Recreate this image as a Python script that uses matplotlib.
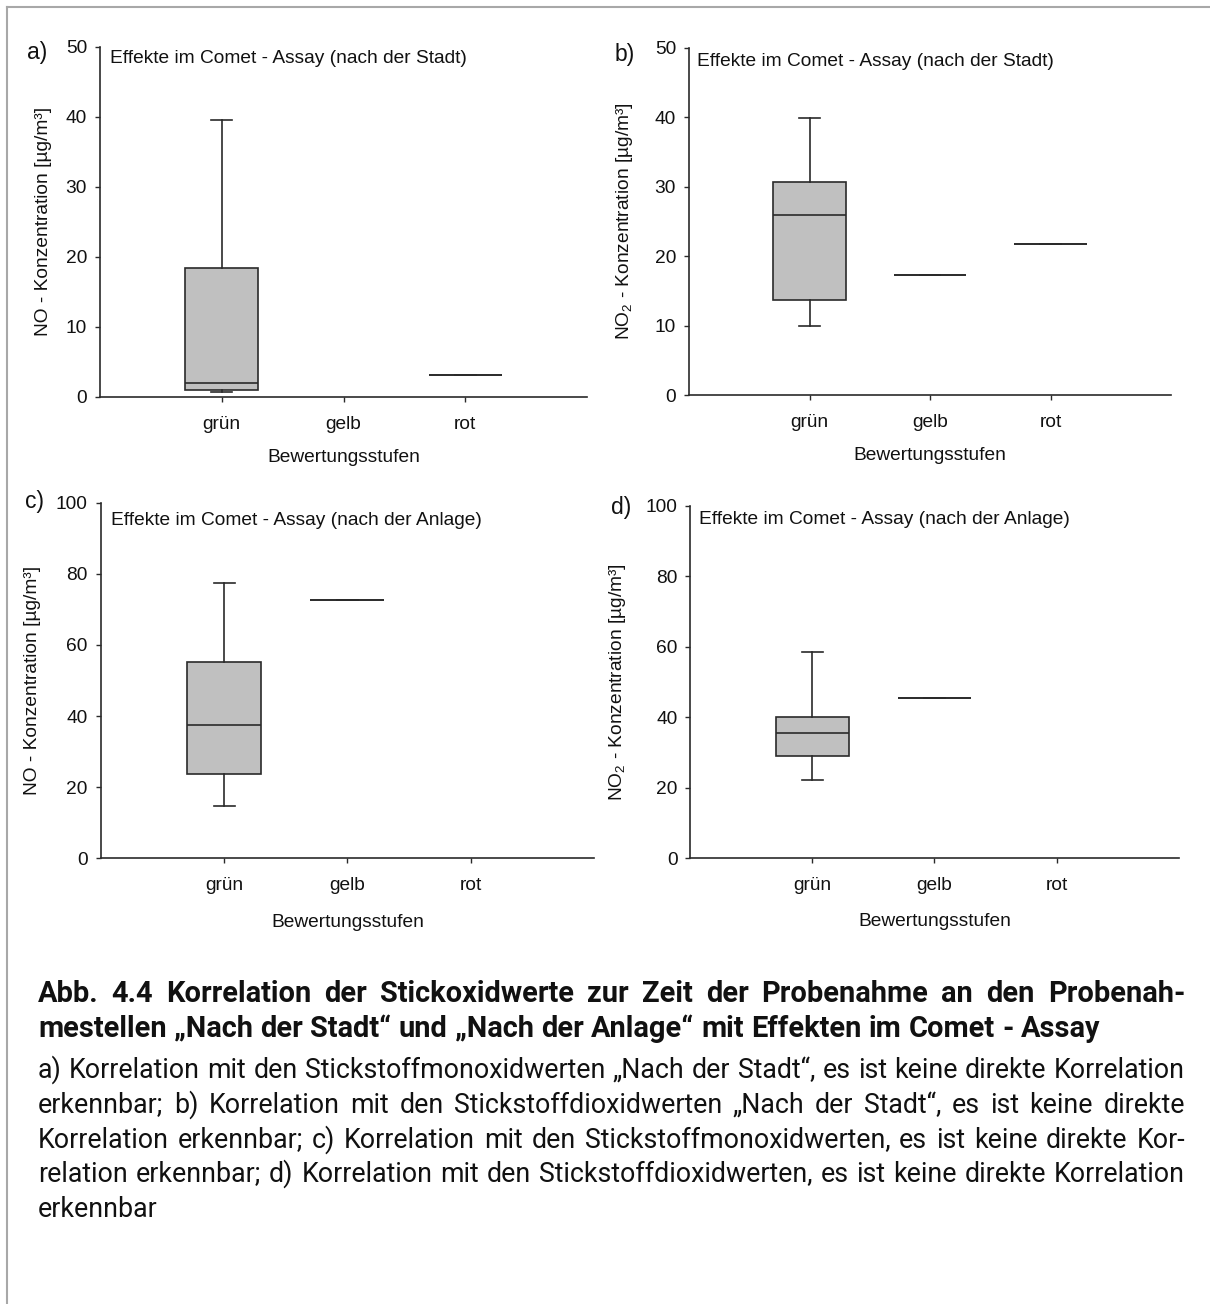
import numpy as np
import matplotlib
matplotlib.use("Agg")
import matplotlib.pyplot as plt
from matplotlib.figure import Figure
from matplotlib.backends.backend_agg import FigureCanvasAgg
from matplotlib.lines import Line2D
from matplotlib.font_manager import FontProperties

W, H, DPI = 1210, 1304, 100

plt.rcParams["font.family"] = ["Liberation Sans", "DejaVu Sans"]
plt.rcParams["mathtext.fontset"] = "custom"
plt.rcParams["mathtext.rm"] = "Liberation Sans"
plt.rcParams["mathtext.it"] = "Liberation Sans:italic"
plt.rcParams["mathtext.bf"] = "Liberation Sans:bold"

# ---- data -------------------------------------------------------------
categories = ["grün", "gelb", "rot"]

# five-number summaries per category:
# (lower whisker, Q1, median, Q3, upper whisker); None = no samples
no_stadt = [(0.7, 0.95, 1.9, 18.4, 39.5), None, (3.1, 3.1, 3.1, 3.1, 3.1)]
no2_stadt = [(10.0, 13.7, 25.9, 30.6, 39.9), (17.3, 17.3, 17.3, 17.3, 17.3),
             (21.8, 21.8, 21.8, 21.8, 21.8)]
no_anlage = [(14.6, 23.8, 37.6, 55.1, 77.5), (72.6, 72.6, 72.6, 72.6, 72.6), None]
no2_anlage = [(22.1, 29.0, 35.6, 40.1, 58.4), (45.4, 45.4, 45.4, 45.4, 45.4), None]

y_ticks_stadt = [0, 10, 20, 30, 40, 50]
y_ticks_anlage = [0, 20, 40, 60, 80, 100]

panel_letters = ["a)", "b)", "c)", "d)"]
note_stadt = "Effekte im Comet - Assay (nach der Stadt)"
note_anlage = "Effekte im Comet - Assay (nach der Anlage)"
ylabel_no = "NO - Konzentration [µg/m³]"
ylabel_no2 = r"NO$_{2}$ - Konzentration [µg/m³]"
xlabel = "Bewertungsstufen"

caption_head = [
    "Abb. 4.4 Korrelation der Stickoxidwerte zur Zeit der Probenahme an den Probenah-",
    "mestellen „Nach der Stadt“ und „Nach der Anlage“ mit Effekten im Comet - Assay",
]
caption_body = [
    "a) Korrelation mit den Stickstoffmonoxidwerten „Nach der Stadt“, es ist keine direkte Korrelation",
    "erkennbar; b) Korrelation mit den Stickstoffdioxidwerten „Nach der Stadt“, es ist keine direkte",
    "Korrelation erkennbar; c) Korrelation mit den Stickstoffmonoxidwerten, es ist keine direkte Kor-",
    "relation erkennbar; d) Korrelation mit den Stickstoffdioxidwerten, es ist keine direkte Korrelation",
    "erkennbar",
]

# ---- figure -------------------------------------------------------------
fig = plt.figure(figsize=(W / DPI, H / DPI), dpi=DPI)
FS = 13.8


def px_axes(x0, y_top, x1, y_bot):
    return fig.add_axes([x0 / W, 1 - y_bot / H, (x1 - x0) / W, (y_bot - y_top) / H])


panels = [
    dict(rect=(100, 46.7, 587, 396.7), data=no_stadt, ylim=50, yt=y_ticks_stadt,
         ylab=ylabel_no, note=note_stadt, note_xy=(0.021, 0.967), ylab_x=-0.117,
         letter_px=(27, 58.5)),
    dict(rect=(689, 47.7, 1171, 395.0), data=no2_stadt, ylim=50, yt=y_ticks_stadt,
         ylab=ylabel_no2, note=note_stadt, note_xy=(0.017, 0.960), ylab_x=-0.133,
         letter_px=(615, 60.5)),
    dict(rect=(100.6, 502.7, 594.3, 858.3), data=no_anlage, ylim=100, yt=y_ticks_anlage,
         ylab=ylabel_no, note=note_anlage, note_xy=(0.021, 0.951), ylab_x=-0.138,
         letter_px=(25, 508.5)),
    dict(rect=(690.3, 505.7, 1178.6, 858.3), data=no2_anlage, ylim=100, yt=y_ticks_anlage,
         ylab=ylabel_no2, note=note_anlage, note_xy=(0.018, 0.960), ylab_x=-0.149,
         letter_px=(611, 514)),
]

edge = "#2a2a2a"
for letter, p in zip(panel_letters, panels):
    ax = px_axes(*p["rect"])
    stats, pos = [], []
    for i, s in enumerate(p["data"]):
        if s is None:
            continue
        lo, q1, med, q3, hi = s
        stats.append(dict(whislo=lo, q1=q1, med=med, q3=q3, whishi=hi, fliers=[]))
        pos.append(i + 1)
    ax.bxp(stats, positions=pos, widths=0.6, capwidths=0.17, patch_artist=True,
           showfliers=False,
           boxprops=dict(facecolor="#c0c0c0", edgecolor=edge, linewidth=1.2),
           medianprops=dict(color=edge, linewidth=1.2),
           whiskerprops=dict(color=edge, linewidth=1.2),
           capprops=dict(color=edge, linewidth=1.2))
    ax.set_xlim(0, 4)
    ax.set_ylim(0, p["ylim"])
    ax.set_xticks([1, 2, 3])
    ax.set_xticklabels(categories)
    ax.set_yticks(p["yt"])
    for s in ("top", "right"):
        ax.spines[s].set_visible(False)
    for s in ("left", "bottom"):
        ax.spines[s].set_color(edge)
        ax.spines[s].set_linewidth(1.2)
    ax.tick_params(axis="both", direction="out", length=3.3, width=1.0, color=edge,
                   labelsize=FS, labelcolor="#111")
    ax.tick_params(axis="x", pad=10.5)
    ax.tick_params(axis="y", pad=6)
    ax.set_ylabel(p["ylab"], fontsize=FS, color="#111")
    ax.yaxis.set_label_coords(p["ylab_x"], 0.5)
    ax.yaxis.label.set_va("center")
    ax.set_xlabel(xlabel, fontsize=FS, color="#111")
    ax.xaxis.set_label_coords(0.5, -0.174 if p["ylim"] == 50 else -0.18)
    ax.xaxis.label.set_va("center")
    ax.text(p["note_xy"][0], p["note_xy"][1], p["note"], transform=ax.transAxes,
            ha="left", va="center", fontsize=FS, color="#111")
    fig.text(p["letter_px"][0] / W, 1 - p["letter_px"][1] / H, letter,
             ha="left", va="baseline", fontsize=16.5, color="#111")

# ---- page frame ---------------------------------------------------------
fig.add_artist(Line2D([7 / W, 7 / W], [0, 1 - 7 / H], transform=fig.transFigure,
                      color="#a8a8a8", linewidth=1.5))
fig.add_artist(Line2D([7 / W, 1], [1 - 7 / H, 1 - 7 / H], transform=fig.transFigure,
                      color="#a8a8a8", linewidth=1.5))

# ---- justified caption, one text per word --------------------------------
renderer = fig.canvas.get_renderer()
X0, X1 = 38, 1185
CAP_FAMILY = ["Roboto", "DejaVu Sans"]


def text_width(s, fp):
    t = fig.text(0, 0, s, fontproperties=fp)
    w = t.get_window_extent(renderer).width
    t.remove()
    return w


_probe = {}


def ink_baseline_row(s, fp):
    """Row where a leading 'x' ends up when 'x'+s is drawn on a fixed baseline."""
    key = (s, str(fp.get_weight()), round(fp.get_size(), 3))
    if key not in _probe:
        pf = Figure(figsize=(9, 0.8), dpi=DPI)
        FigureCanvasAgg(pf)
        pf.text(10 / 900, 0.5, "x" + s, fontproperties=fp, ha="left",
                va="baseline", color="black")
        pf.canvas.draw()
        img = np.asarray(pf.canvas.buffer_rgba())[:, :, 0].astype(float)
        xw = text_width("x", fp)
        c0, c1 = 10 + int(xw * 0.3), 10 + max(int(xw * 0.7), int(xw * 0.3) + 1)
        darkness = 255 - img[:, c0:c1].min(axis=1)
        rows = np.where(darkness > 60)[0]
        # sub-pixel bottom edge from the coverage of the last inked row
        last = rows.max()
        _probe[key] = last + darkness[last] / 255.0
    return _probe[key]


def fit_size(sample, target, weight):
    fp = FontProperties(family=CAP_FAMILY, weight=weight, size=10)
    return 10 * target / text_width(sample, fp)


def draw_line(s, y_base, fp, justify):
    words = s.split(" ")
    widths = [text_width(w, fp) for w in words]
    if justify:
        gap = (X1 - X0 - sum(widths)) / (len(words) - 1)
    else:
        gap = text_width("a b", fp) - text_width("ab", fp)
    ref = ink_baseline_row("", fp)
    x = X0
    for w, wd in zip(words, widths):
        dy = ink_baseline_row(w, fp) - ref
        fig.text(x / W, 1 - (y_base - dy) / H, w, fontproperties=fp,
                 ha="left", va="baseline", color="#111")
        x += wd + gap


head_size = fit_size(caption_head[1], 1062, "bold")
body_size = fit_size("erkennbar", 120, "normal")
fp_head = FontProperties(family=CAP_FAMILY, weight="bold", size=head_size)
fp_body = FontProperties(family=CAP_FAMILY, weight="normal", size=body_size)

head_y = [1002, 1037]
body_y = [1078, 1113, 1148, 1182, 1217]
draw_line(caption_head[0], head_y[0], fp_head, True)
draw_line(caption_head[1], head_y[1], fp_head, False)
for i, (s, yb) in enumerate(zip(caption_body, body_y)):
    draw_line(s, yb, fp_body, i < len(caption_body) - 1)

fig.savefig("out.png", dpi=DPI)
